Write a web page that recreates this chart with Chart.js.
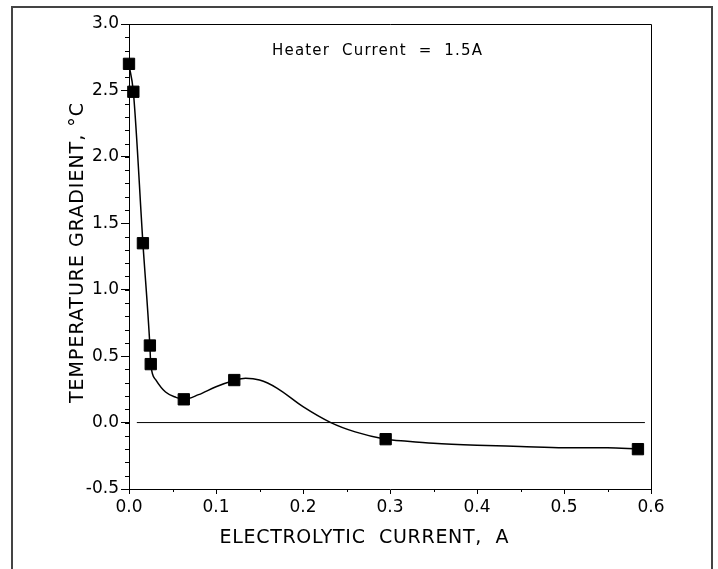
<!DOCTYPE html>
<html>
<head>
<meta charset="utf-8">
<script src="https://cdn.jsdelivr.net/npm/chart.js@4.4.1/dist/chart.umd.min.js"></script>
<style>
	html, body { margin: 0; padding: 0; background: #ffffff; }
	#wrap { width: 718px; height: 569px; }
</style>
</head>
<body>
<div id="wrap"><canvas id="gradient_chart"></canvas></div>
<script>
//
// Measured points (electrolytic current in A, temperature gradient in °C).
//
const current_values = [ 0.0, 0.005, 0.016, 0.024, 0.025, 0.063, 0.121, 0.295, 0.585 ];
const gradient_values = [ 2.7, 2.49, 1.35, 0.58, 0.44, 0.175, 0.32, -0.125, -0.2 ];

//
// Smooth fitted curve.
//
const curve_x = [ 0.0, 0.005, 0.016, 0.024, 0.025, 0.031, 0.042, 0.054, 0.063, 0.08, 0.1, 0.12, 0.134, 0.15, 0.17, 0.2, 0.232, 0.26, 0.295, 0.32, 0.35, 0.4, 0.45, 0.5, 0.55, 0.585 ];
const curve_y = [ 2.69, 2.49, 1.35, 0.58, 0.44, 0.32, 0.23, 0.19, 0.175, 0.21, 0.27, 0.315, 0.333, 0.32, 0.26, 0.12, 0.0, -0.07, -0.125, -0.14, -0.155, -0.17, -0.18, -0.19, -0.19, -0.2 ];

// Zero reference line
const zero_x = [ 0.009, 0.593 ];
const zero_y = [ 0, 0 ];

// Axis ticks
const x_ticks = [ 0.0, 0.1, 0.2, 0.3, 0.4, 0.5, 0.6 ];
const y_ticks = [ -0.5, 0.0, 0.5, 1.0, 1.5, 2.0, 2.5, 3.0 ];

const x_title = "ELECTROLYTIC  CURRENT,  A";
const y_title = "TEMPERATURE GRADIENT, °C";
const note_text = "Heater  Current  =  1.5A";

const FONT = "'DejaVu Sans', sans-serif";

function toPoints( xs, ys ) {
	return xs.map( ( x, i ) => ( { x: x, y: ys[ i ] } ) );
}

// Writes a text stretched to a given width
function fitText( ctx, text, x, y, width ) {
	ctx.letterSpacing = "0px";
	const w = ctx.measureText( text ).width;
	const spacing = ( width - w ) / ( text.length - 1 );
	ctx.letterSpacing = spacing + "px";
	ctx.textAlign = "left";
	ctx.fillText( text, x - width / 2, y );
	ctx.letterSpacing = "0px";
}

//
// Frame, minor ticks, titles and the note.
//
const decorations = {
	id: "decorations",
	afterDraw( chart ) {
		const ctx = chart.ctx;
		const area = chart.chartArea;
		const xs = chart.scales.x;
		const ys = chart.scales.y;

		ctx.save();

		// outer frame
		ctx.strokeStyle = "#444444";
		ctx.lineWidth = 2;
		ctx.beginPath();
		ctx.moveTo( 12, 580 );
		ctx.lineTo( 12, 7 );
		ctx.lineTo( 712, 7 );
		ctx.lineTo( 712, 580 );
		ctx.stroke();

		// top and right of the plot
		ctx.strokeStyle = "#000000";
		ctx.lineWidth = 1;
		ctx.beginPath();
		ctx.moveTo( area.left, area.top + 0.5 );
		ctx.lineTo( area.right + 0.5, area.top + 0.5 );
		ctx.lineTo( area.right + 0.5, area.bottom + 3 );
		ctx.stroke();

		// minor ticks
		ctx.beginPath();
		for ( let v = -0.5; v <= 3.0001; v += 0.1 ) {
			const py = Math.round( ys.getPixelForValue( v ) ) + 0.5;
			ctx.moveTo( area.left - 4, py );
			ctx.lineTo( area.left, py );
		}
		for ( let v = 0.05; v < 0.6; v += 0.1 ) {
			const px = Math.round( xs.getPixelForValue( v ) ) + 0.5;
			ctx.moveTo( px, area.bottom );
			ctx.lineTo( px, area.bottom + 3 );
		}
		ctx.stroke();

		ctx.fillStyle = "#000000";
		ctx.textBaseline = "middle";

		// x title
		ctx.font = "19px " + FONT;
		fitText( ctx, x_title, 364, 538, 289 );

		// y title
		ctx.save();
		ctx.translate( 78, 253 );
		ctx.rotate( -Math.PI / 2 );
		fitText( ctx, y_title, 0, 0, 300 );
		ctx.restore();

		// note
		ctx.font = "15px " + FONT;
		fitText( ctx, note_text, 377, 51, 210 );

		ctx.restore();
	}
};

const gradient_chart = document.getElementById( "gradient_chart" );

new Chart( gradient_chart,
	{
		type: "scatter",
		data: {
			datasets: [
				{
					data: toPoints( current_values, gradient_values ),
					pointStyle: "rect",
					pointRadius: 8,
					pointBorderWidth: 1,
					backgroundColor: "#000000",
					borderColor: "#000000",
					showLine: false,
					clip: false
				},
				{
					data: toPoints( curve_x, curve_y ),
					showLine: true,
					cubicInterpolationMode: "monotone",
					borderColor: "#000000",
					borderWidth: 1.5,
					pointRadius: 0
				},
				{
					data: toPoints( zero_x, zero_y ),
					showLine: true,
					borderColor: "#000000",
					borderWidth: 1,
					pointRadius: 0
				}
			]
		},
		options: {
			responsive: true,
			maintainAspectRatio: false,
			animation: false,
			layout: {
				padding: { left: 11, top: 24, right: 67, bottom: 0 }
			},
			plugins: {
				legend: { display: false },
				tooltip: { enabled: false }
			},
			scales: {
				x: {
					type: "linear",
					min: 0,
					max: 0.6,
					afterFit: ( scale ) => { scale.height = 80; },
					afterBuildTicks: ( scale ) => { scale.ticks = x_ticks.map( v => ( { value: v } ) ); },
					grid: {
						drawOnChartArea: false,
						tickLength: 5,
						color: "#000000"
					},
					border: { display: true, color: "#000000", width: 1 },
					ticks: {
						color: "#000000",
						padding: 3,
						maxRotation: 0,
						font: { size: 17, family: FONT },
						callback: ( v ) => v.toFixed( 1 )
					}
				},
				y: {
					type: "linear",
					min: -0.5,
					max: 3.0,
					afterFit: ( scale ) => { scale.width = 118; },
					afterBuildTicks: ( scale ) => { scale.ticks = y_ticks.map( v => ( { value: v } ) ); },
					grid: {
						drawOnChartArea: false,
						tickLength: 8,
						color: "#000000"
					},
					border: { display: true, color: "#000000", width: 1 },
					ticks: {
						color: "#000000",
						padding: 2,
						font: { size: 17, family: FONT },
						callback: ( v ) => v.toFixed( 1 )
					}
				}
			}
		},
		plugins: [ decorations ]
	} );
</script>
</body>
</html>
